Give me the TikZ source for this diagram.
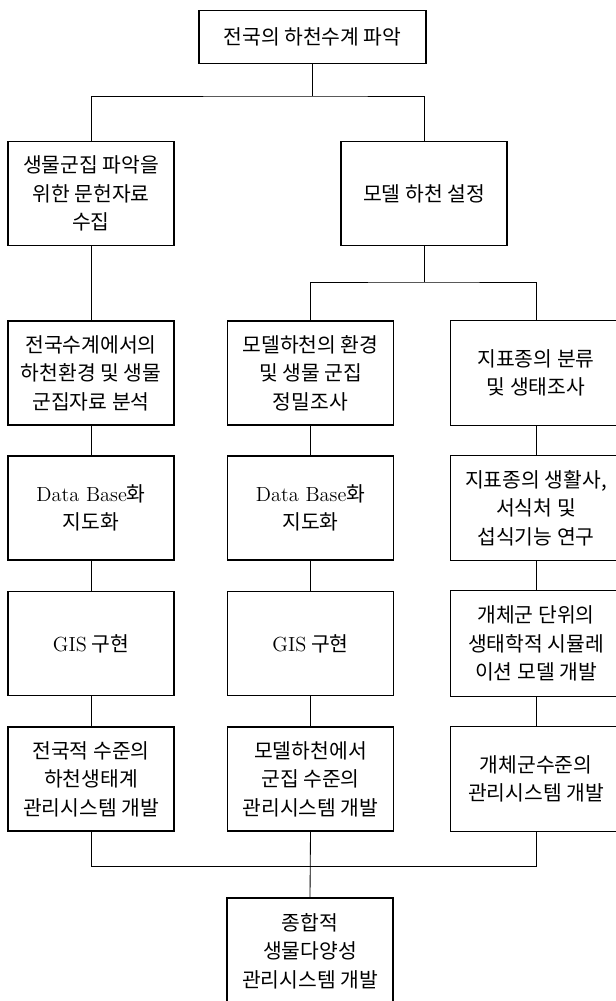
\documentclass[tikz,border=0pt]{standalone}
\usepackage{fontspec}
\newfontfamily\kr{Noto Sans CJK KR}
\newcommand{\latn}[1]{{\normalfont\fontsize{14.5}{20.2}\selectfont #1}}

\begin{document}
\begin{tikzpicture}[x=0.025cm, y=-0.025cm,
		boxline/.style={line width=0.9pt},
		stepbox/.style={draw, boxline, inner sep=0pt, align=center,
			minimum width=4.15cm, minimum height=2.6cm,
			font=\kr\fontsize{14.5}{20.2}\selectfont},
		widebox/.style={stepbox, draw=none, minimum width=4.25cm},
		link/.style={line width=0.6pt}]
			%%%%% START %%%%%
			
			\useasboundingbox (0, 0) rectangle (616, 1001);
			
			\node[stepbox, minimum width=5.675cm, minimum height=1.325cm] (survey) at (312.5, 37) {전국의 하천수계 파악};
			
			\node[stepbox] (literature) at (91, 193.5) {생물군집 파악을\\위한 문헌자료\\수집};
			\node[stepbox] (model) at (424, 193.5) {모델 하천 설정};
			
			\node[stepbox] (natanalysis) at (91, 373) {전국수계에서의\\하천환경 및 생물\\군집자료 분석};
			\node[stepbox] (natdb) at (91, 508) {\latn{Data Base}화\\지도화};
			\node[stepbox] (natgis) at (91, 643.5) {\latn{GIS} 구현};
			\node[stepbox] (natsys) at (91, 779) {전국적 수준의\\하천생태계\\관리시스템 개발};
			
			\node[stepbox] (modsurvey) at (310.5, 373) {모델하천의 환경\\및 생물 군집\\정밀조사};
			\node[stepbox] (moddb) at (310.5, 508) {\latn{Data Base}화\\지도화};
			\node[stepbox] (modgis) at (310.5, 643.5) {\latn{GIS} 구현};
			\node[stepbox] (modsys) at (310.5, 779) {모델하천에서\\군집 수준의\\관리시스템 개발};
			
			\node[widebox] (indclass) at (536, 373) {지표종의 분류\\및 생태조사};
			\node[widebox] (indlife) at (536, 508) {지표종의 생활사,\\서식처 및\\섭식기능 연구};
			\node[widebox] (popsim) at (536, 643.5) {개체군 단위의\\생태학적 시뮬레\\이션 모델 개발};
			\node[widebox] (popsys) at (536, 779) {개체군수준의\\관리시스템 개발};
			
			% right column runs off the page
			\foreach \n in {indclass, indlife, popsim, popsys}
				\draw[boxline] ([xshift=40]\n.north east) -- (\n.north west) -- (\n.south west) -- ([xshift=40]\n.south east);
			
			\node[stepbox, minimum height=2.65cm] (total) at (310, 951) {종합적\\생물다양성\\관리시스템 개발};
			
			\coordinate (split) at (312.5, 96);
			\coordinate (modsplit) at (424, 282);
			\coordinate (merge) at (310.5, 866);
			
			\draw[link] (survey.south) -- (split);
			\draw[link] (literature.north) |- (split) -| (model.north);
			\draw[link] (model.south) -- (modsplit);
			\draw[link] (modsurvey.north) |- (modsplit) -| (indclass.north);
			
			\draw[link] (literature) -- (natanalysis);
			\draw[link] (natanalysis) -- (natdb);
			\draw[link] (natdb) -- (natgis);
			\draw[link] (natgis) -- (natsys);
			
			\draw[link] (modsurvey) -- (moddb);
			\draw[link] (moddb) -- (modgis);
			\draw[link] (modgis) -- (modsys);
			
			\draw[link] (indclass) -- (indlife);
			\draw[link] (indlife) -- (popsim);
			\draw[link] (popsim) -- (popsys);
			
			\draw[link] (natsys.south) |- (merge) -| (popsys.south);
			\draw[link] (modsys.south) -- (total.north);
			
			%%%%% END %%%%%
\end{tikzpicture}
\end{document}
